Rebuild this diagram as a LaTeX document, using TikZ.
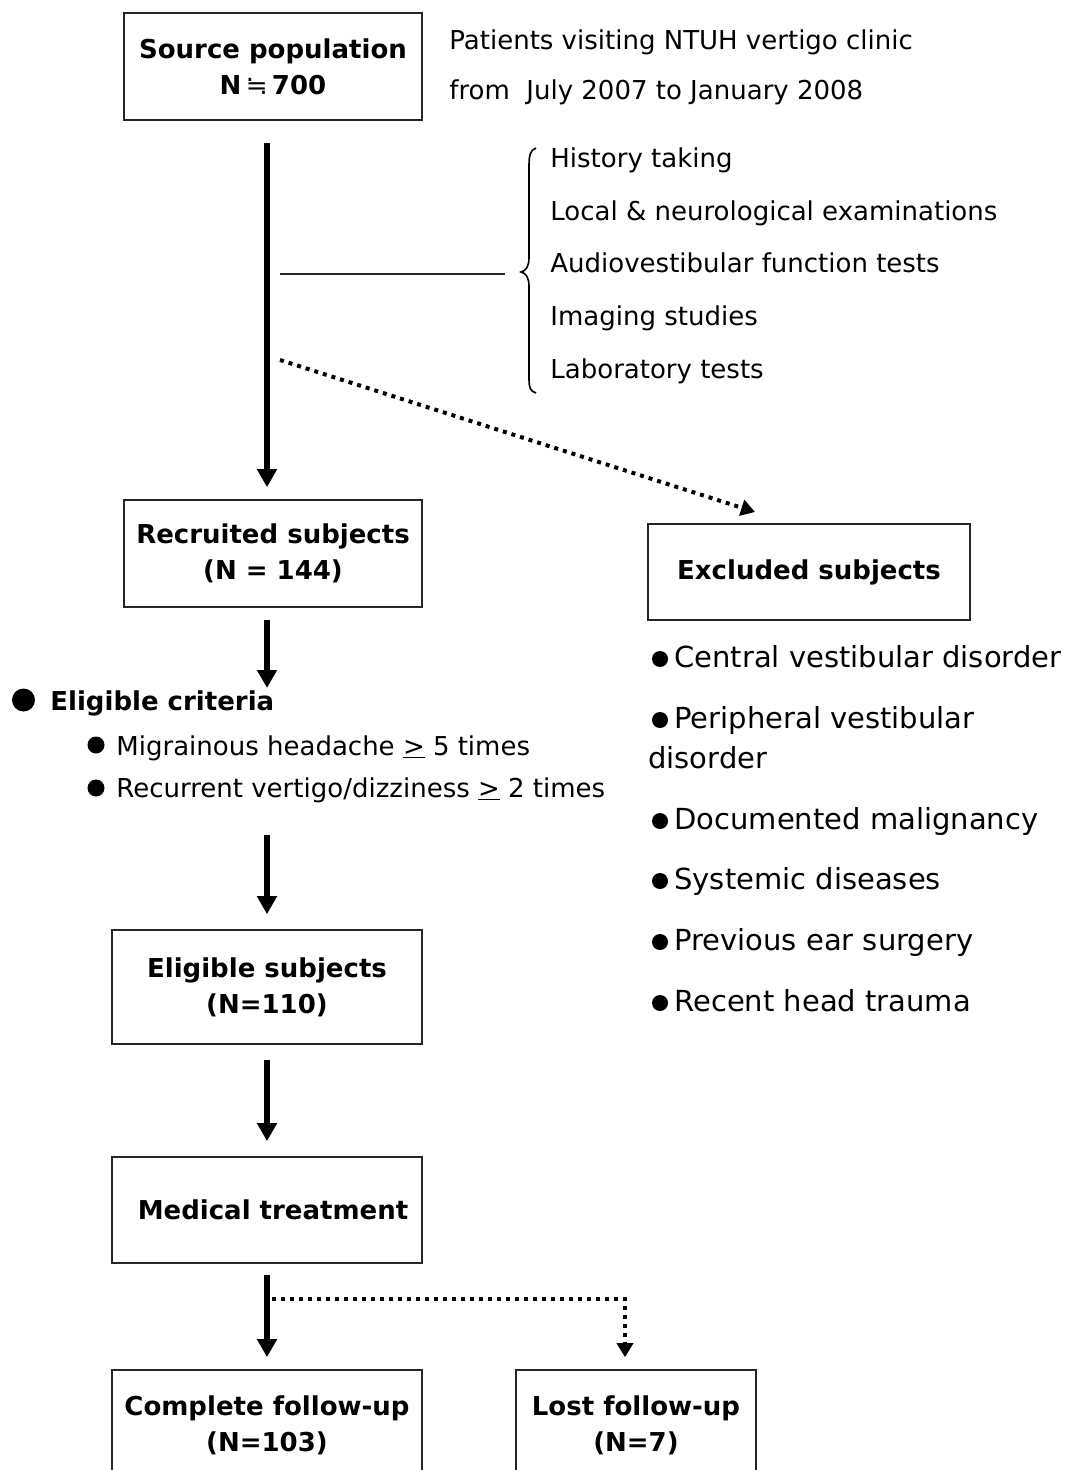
\documentclass[tikz,border=0pt]{standalone}
\usepackage{fontspec}
\setmainfont{DejaVu Sans}
\usetikzlibrary{arrows.meta,calc}
\tikzset{
  box/.style={draw=black!85, line width=0.8pt, align=center, font=\bfseries\fontsize{13}{18}\selectfont, inner sep=0pt},
  arr/.style={line width=3pt, -{Triangle[width=9.5pt,length=9pt]}},
  dotline/.style={line width=2pt, dash pattern=on 2pt off 2.5pt},
  dotarr/.style={dotline, -{Triangle[width=8pt,length=7pt]}},
  txt/.style={anchor=base west, inner sep=0pt, font=\fontsize{13}{16}\selectfont},
  btxt/.style={anchor=base west, inner sep=0pt, font=\bfseries\fontsize{13}{16}\selectfont},
  extxt/.style={anchor=base west, inner sep=0pt, font=\fontsize{14.5}{18}\selectfont},
  bul/.style={fill=black, draw=none},
  thinline/.style={line width=1.3pt, draw=black!85}
}
\begin{document}
\begin{tikzpicture}[x=0.5pt,y=-0.5pt]
\clip (0,0) rectangle (1068,1470);
\fill[white] (0,0) rectangle (1068,1470);

% boxes
\node[box, minimum width=149pt, minimum height=53.5pt] (src) at (273,66.5) {Source population\\N\,{\mdseries ≒}\,700};
\node[box, minimum width=149pt, minimum height=53.5pt] (rec) at (273,553.5) {Recruited subjects\\(N = 144)};
\node[box, minimum width=161pt, minimum height=48pt] (exc) at (809,572) {Excluded subjects};
\node[box, minimum width=155pt, minimum height=57pt] (elig) at (267,987) {Eligible subjects\\(N=110)};
\node[box, minimum width=155pt, minimum height=53pt] (med) at (267,1210) {\hspace*{6pt}Medical treatment};
\node[box, minimum width=155pt, minimum height=55pt] (comp) at (267,1425) {Complete follow-up\\(N=103)};
\node[box, minimum width=120pt, minimum height=55pt] (lost) at (636,1425) {Lost follow-up\\(N=7)};

% top right text
\node[txt] (pat1) at (449,50) {Patients visiting NTUH vertigo clinic};
\node[txt] (pat2) at (449,100) {from\ \ July 2007 to January 2008};

% examination list
\node[txt] (l1) at (550,168) {History taking};
\node[txt] (l2) at (550,221) {Local \& neurological examinations};
\node[txt] (l3) at (550,273) {Audiovestibular function tests};
\node[txt] (l4) at (550,326) {Imaging studies};
\node[txt] (l5) at (550,379) {Laboratory tests};

% brace
\draw[line width=0.8pt] (536,148) .. controls (530,150) and (529,156) .. (529,166) -- (529,258)
  .. controls (529,266) and (526,271) .. (521,272) .. controls (526,273) and (529,278) .. (529,286)
  -- (529,378) .. controls (529,388) and (530,391) .. (536,393);

% connectors
\coordinate (a1s) at (267,143);
\draw[arr, shorten >=6pt] (a1s) -- (rec.north -| a1s);
\coordinate (hl1) at (280,274);
\coordinate (hl2) at (505,274);
\draw[thinline] (hl1) -- (hl2);
\coordinate (ds) at (280,360);
\coordinate (de) at (755,512);
\draw[dotarr] (ds) -- (de);

\coordinate (a2s) at (267,620);
\coordinate (a2e) at (267,688);
\draw[arr] (a2s) -- (a2e);

\coordinate (a3s) at (267,835);
\draw[arr, shorten >=7.5pt] (a3s) -- (elig.north -| a3s);
\coordinate (a4s) at (267,1060);
\draw[arr, shorten >=7.5pt] (a4s) -- (med.north -| a4s);
\coordinate (a5s) at (267,1275);
\draw[arr, shorten >=6pt] (a5s) -- (comp.north -| a5s);
\coordinate (b1) at (272,1299);
\coordinate (b2) at (625,1299);
\draw[dotarr, shorten >=6pt] (b1) -- (b2) -- (lost.north -| b2);

% eligible criteria
\fill[bul] (23.5,700) circle (11.5);
\node[btxt] (ec) at (50,710) {Eligible criteria};
\fill[bul] (96,745) circle (8.5);
\node[txt] (ec1) at (116,755) {Migrainous headache \underline{>} 5 times};
\fill[bul] (96,788) circle (8.5);
\node[txt] (ec2) at (116,797) {Recurrent vertigo/dizziness \underline{>} 2 times};

% excluded list
\fill[bul] (660,659) circle (8);
\node[extxt] (x1) at (674,667) {Central vestibular disorder};
\fill[bul] (660,720) circle (8);
\node[extxt] (x2) at (674,728) {Peripheral vestibular};
\node[extxt] (x2b) at (648,768) {disorder};
\fill[bul] (660,821) circle (8);
\node[extxt] (x3) at (674,829) {Documented malignancy};
\fill[bul] (660,881) circle (8);
\node[extxt] (x4) at (674,889) {Systemic diseases};
\fill[bul] (660,942) circle (8);
\node[extxt] (x5) at (674,950) {Previous ear surgery};
\fill[bul] (660,1003) circle (8);
\node[extxt] (x6) at (674,1011) {Recent head trauma};
\end{tikzpicture}
\end{document}
